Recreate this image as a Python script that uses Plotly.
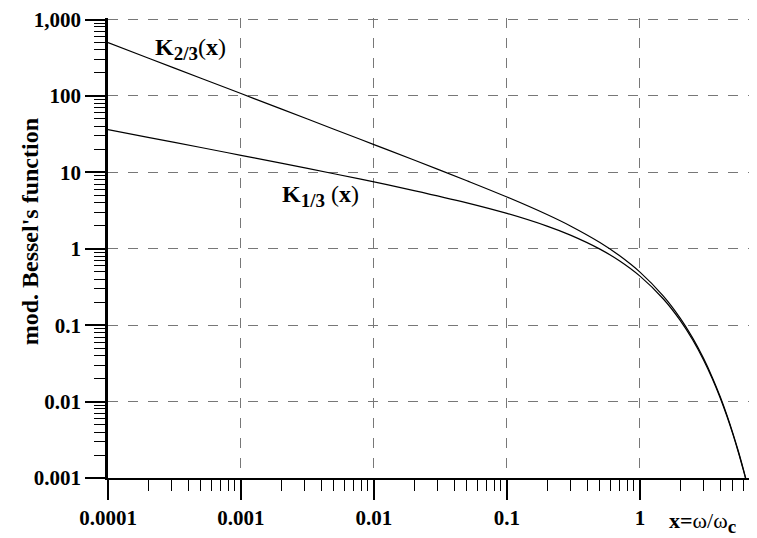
import plotly.graph_objects as go

# Values
x_vals = [1e-4, 2e-4, 5e-4, 1e-3, 2e-3, 5e-3, 0.01, 0.02, 0.05, 0.1, 0.2, 0.3, 0.5, 0.7,
          1.0, 1.5, 2.0, 2.5, 3.0, 3.5, 4.0, 4.5, 5.0, 5.5, 6.0, 6.3]
k23_vals = [498.7, 314.3, 170.6, 107.5, 67.69, 36.72, 23.10, 14.50, 7.762, 4.754, 2.802, 1.987,
            1.206, 0.8148, 0.4945, 0.2402, 0.1249, 0.06722, 0.0371, 0.02073, 0.01173, 0.006693,
            0.003844, 0.00222, 0.001288, 0.00093]
k13_vals = [36.28, 28.76, 21.14, 16.72, 13.19, 9.594, 7.486, 5.781, 3.991, 2.900, 1.979, 1.509,
            0.9889, 0.6965, 0.4384, 0.2200, 0.1165, 0.06356, 0.0353, 0.01988, 0.0113, 0.006472,
            0.003729, 0.002159, 0.001255, 0.000908]

x_tickvals = [1e-4, 1e-3, 1e-2, 1e-1, 1]
x_ticktext = ["0.0001", "0.001", "0.01", "0.1", "1"]
y_tickvals = [1e-3, 1e-2, 1e-1, 1, 10, 100, 1000]
y_ticktext = ["0.001", "0.01", "0.1", "1", "10", "100", "1,000"]

minor_x = [m * 10.0 ** e for e in range(-4, 1) for m in range(2, 10)]
minor_y = [m * 10.0 ** e for e in range(-3, 3) for m in range(2, 10)]

FONT = "Liberation Serif"

# page body has an 8px default margin -> figure is drawn 8px right/down
OFF = 8
W, H = 757 - OFF, 538 - OFF
YTOP = 3.02  # a hair above 1000 so its tick/grid line is kept
L, R, B = 108 - OFF, 0, H - (478 - OFF)
# choose T so that y=1000 lands at page y=17
dec_px = (478 - 17) / 6.0
T = (17 - OFF) - (YTOP - 3) * dec_px
pw, ph = W - L - R, H - T - B

fig = go.Figure()
for yv in (k23_vals, k13_vals):
    fig.add_trace(go.Scatter(x=x_vals, y=yv, mode="lines",
                             line=dict(color="black", width=1.2, shape="spline"),
                             showlegend=False))

grid = dict(showgrid=True, gridcolor="#777777", gridwidth=1.3, griddash="10px,10px")
tickfont = dict(family=FONT, size=21, color="black", weight="bold")

fig.update_xaxes(type="log", range=[-4, 0.88], tickmode="array", tickvals=x_tickvals, ticktext=x_ticktext,
                 ticks="outside", ticklen=20, tickwidth=1.5, tickcolor="black",
                 showline=True, linecolor="black", linewidth=1.5, zeroline=False,
                 tickfont=tickfont, ticklabeloverflow="allow",
                 minor=dict(tickmode="array", tickvals=minor_x, ticks="outside", ticklen=11,
                            tickwidth=1.3, tickcolor="black", showgrid=False),
                 **grid)
fig.update_yaxes(type="log", range=[-3, YTOP], tickmode="array", tickvals=y_tickvals, ticktext=y_ticktext,
                 ticks="outside", ticklen=20, tickwidth=1.5, tickcolor="black",
                 showline=True, linecolor="black", linewidth=2.5, zeroline=False,
                 tickfont=tickfont, ticklabeloverflow="allow",
                 minor=dict(tickmode="array", tickvals=minor_y, ticks="outside", ticklen=11,
                            tickwidth=1.3, tickcolor="black", showgrid=False),
                 **grid)


def px(xp):
    return (xp - OFF - L) / pw


def py(yp):
    return (H - (yp - OFF) - B) / ph


SUB = "<sub><b><span style='font-size:19px'>{}</span></b></sub>"
annots = [
    dict(text="<b>K</b>" + SUB.format("2/3") + "(<b>x</b>)", x=px(153), y=py(47),
         xanchor="left", yanchor="middle", size=24),
    dict(text="<b>K</b>" + SUB.format("1/3") + " (<b>x</b>)", x=px(280), y=py(194),
         xanchor="left", yanchor="middle", size=24),
    dict(text="<b>x=</b>ω/ω" + SUB.format("c"), x=px(667), y=py(523),
         xanchor="left", yanchor="middle", size=22),
    dict(text="<b>mod. Bessel's function</b>", x=px(30), y=py(231), xanchor="center", yanchor="middle",
         textangle=-90, size=24),
]
for a in annots:
    size = a.pop("size")
    fig.add_annotation(xref="paper", yref="paper", showarrow=False,
                       font=dict(family=FONT, size=size, color="black"), **a)

fig.update_layout(width=W, height=H, margin=dict(l=L, r=R, t=T, b=B),
                  plot_bgcolor="white", paper_bgcolor="white",
                  font=dict(family=FONT, color="black"))
fig.write_html("out.html")
